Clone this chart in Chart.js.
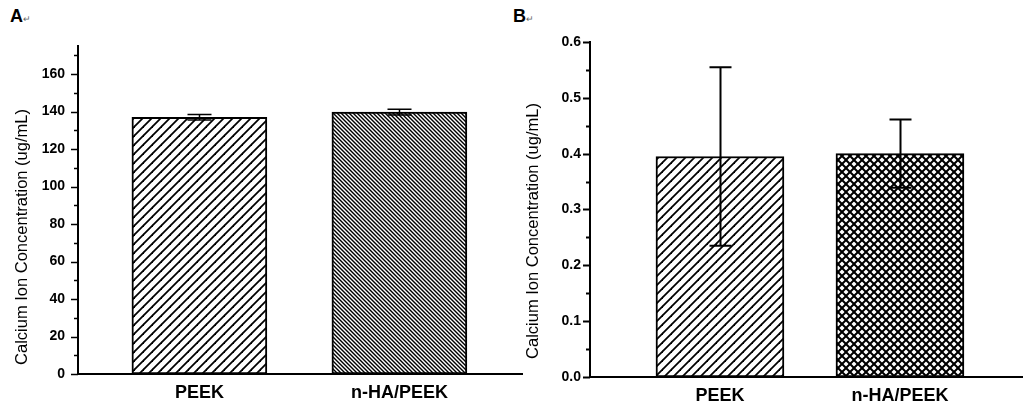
<!DOCTYPE html>
<html><head><meta charset="utf-8">
<script src="https://cdn.jsdelivr.net/npm/chart.js@4.4.1/dist/chart.umd.min.js"></script>
<style>
html,body{margin:0;padding:0;background:#fff;width:1025px;height:408px;overflow:hidden;font-family:"Liberation Sans",Arial,sans-serif;}
canvas{position:absolute;top:0;}
#cA{left:0;}
#cB{left:510px;}
.lab{position:absolute;font-weight:bold;font-size:18px;color:#000;}
.lab span{font-weight:normal;font-size:9px;color:#666;}
</style></head>
<body>
<div class="lab" style="left:10px;top:6px;">A<span>↵</span></div>
<div class="lab" style="left:513px;top:6px;">B<span>↵</span></div>
<canvas id="cA" width="525" height="408" style="width:525px;height:408px"></canvas>
<canvas id="cB" width="515" height="408" style="width:515px;height:408px"></canvas>
<script>
// ---- data ----
const categories = ['PEEK', 'n-HA/PEEK'];
const valuesA = [137.0, 139.7];
const errorsA = [1.5, 1.5];
const valuesB = [0.395, 0.400];
const errorsB = [0.160, 0.061];
const tickLabelsA = [0, 20, 40, 60, 80, 100, 120, 140, 160];
const tickLabelsB = [0.0, 0.1, 0.2, 0.3, 0.4, 0.5, 0.6];
const axisTitle = 'Calcium Ion Concentration (ug/mL)';

// ---- patterns ----
function hatch(s, lw, dir) {
  const c = document.createElement('canvas'); c.width = c.height = s;
  const g = c.getContext('2d');
  g.fillStyle = '#fff'; g.fillRect(0, 0, s, s);
  g.strokeStyle = '#000'; g.lineWidth = lw; g.lineCap = 'square';
  const line = (a, b, cc, d) => { g.beginPath(); g.moveTo(a, b); g.lineTo(cc, d); g.stroke(); };
  for (let k = -1; k <= 1; k++) {
    if (dir === '/' || dir === 'x') line(k * s, s, k * s + s, 0);
    if (dir === '\\' || dir === 'x') line(k * s, 0, k * s + s, s);
  }
  return g.createPattern(c, 'repeat');
}

// ---- plugins ----
const yTicks = {
  id: 'yTicks',
  afterDraw(chart, args, o) {
    const s = chart.scales.y, ctx = chart.ctx;
    ctx.save(); ctx.strokeStyle = '#000'; ctx.lineWidth = o.width;
    const n = Math.floor((s.max - s.min) / o.minor + 1e-6);
    for (let i = 0; i <= n; i++) {
      const v = s.min + i * o.minor;
      const r = v / o.major;
      const major = Math.abs(r - Math.round(r)) < 1e-6;
      const y = Math.round(s.getPixelForValue(v)) + 0.5;
      const len = major ? o.majorLen : o.minorLen;
      ctx.beginPath(); ctx.moveTo(s.right - len, y); ctx.lineTo(s.right, y); ctx.stroke();
    }
    ctx.restore();
  }
};
const yTitle = {
  id: 'yTitle',
  afterDraw(chart, args, o) {
    const s = chart.scales.y, ctx = chart.ctx;
    ctx.save();
    ctx.translate(s.left + o.dx, s.bottom - o.fromBottom);
    ctx.rotate(-Math.PI / 2);
    ctx.fillStyle = '#000';
    ctx.font = o.font;
    ctx.textAlign = 'center'; ctx.textBaseline = 'middle';
    ctx.fillText(o.text, 0, 0);
    ctx.restore();
  }
};
const errBars = {
  id: 'errBars',
  afterDatasetsDraw(chart, args, o) {
    const ctx = chart.ctx, y = chart.scales.y;
    const meta = chart.getDatasetMeta(0);
    const vals = chart.data.datasets[0].data;
    ctx.save(); ctx.strokeStyle = o.color; ctx.lineWidth = o.width;
    meta.data.forEach((bar, i) => {
      const v = vals[i].y, e = o.errors[i];
      const x = Math.round(bar.x) + 0.5, yt = y.getPixelForValue(v + e), yb = y.getPixelForValue(v - e);
      ctx.beginPath();
      ctx.moveTo(x, yt); ctx.lineTo(x, yb);
      ctx.moveTo(x - o.cap, yt); ctx.lineTo(x + o.cap, yt);
      ctx.moveTo(x - o.cap, yb); ctx.lineTo(x + o.cap, yb);
      ctx.stroke();
    });
    ctx.restore();
  }
};

function makeChart(id, vals, errs, tickLabels, cfg) {
  return new Chart(document.getElementById(id), {
    type: 'bar',
    data: {
      datasets: [{
        data: categories.map((c, i) => ({ x: i + 1, y: vals[i] })),
        backgroundColor: cfg.fills,
        borderColor: '#000',
        borderWidth: 2,
        borderSkipped: false,
        barThickness: cfg.barW
      }]
    },
    options: {
      responsive: false, animation: false,
      layout: { padding: cfg.pad },
      plugins: {
        legend: { display: false }, tooltip: { enabled: false },
        yTicks: cfg.ticks,
        yTitle: { text: axisTitle, font: '16.5px "Liberation Sans", Arial, sans-serif', dx: cfg.titleDx, fromBottom: cfg.titleFromBottom },
        errBars: { errors: errs, cap: cfg.cap, width: cfg.errW, color: '#000' }
      },
      scales: {
        x: {
          type: 'linear', min: cfg.xmin, max: cfg.xmax, offset: false,
          grid: { display: false, drawTicks: false, offset: false },
          border: { display: true, color: '#000', width: 2 },
          afterBuildTicks: s => { s.ticks = categories.map((c, i) => ({ value: i + 1 })); },
          afterFit: s => { s.height = cfg.xh; },
          ticks: {
            callback: v => categories[v - 1] || '',
            color: '#000', padding: cfg.xpad, maxRotation: 0, autoSkip: false,
            font: { family: 'Liberation Sans', size: 18, weight: 'bold' }
          }
        },
        y: {
          min: cfg.ymin, max: cfg.ymax,
          grid: { display: false, drawTicks: false },
          border: { display: true, color: '#000', width: 2 },
          afterBuildTicks: s => { s.ticks = tickLabels.map(v => ({ value: v })); },
          afterFit: s => { s.width = cfg.yw; },
          ticks: {
            callback: v => cfg.fmt(v),
            color: '#000', padding: cfg.ypad,
            font: { family: 'Liberation Sans', size: 14, weight: 'bold' }
          },
          title: { display: false }
        }
      }
    },
    plugins: [yTicks, yTitle, errBars]
  });
}

makeChart('cA', valuesA, errorsA, tickLabelsA, {
  fills: [hatch(9, 1.8, '/'), hatch(4, 1.4, '\\')],
  barW: 135, pad: { left: 0, right: 3, top: 46, bottom: 0 },
  xmin: 0.393, xmax: 2.613, xh: 34, xpad: 8,
  ymin: 0, ymax: 175, yw: 78, ypad: 13,
  fmt: v => String(v),
  titleDx: 22, titleFromBottom: 137,
  ticks: { minor: 10, major: 20, majorLen: 7, minorLen: 4, width: 1.5 },
  cap: 12, errW: 1.5
});
makeChart('cB', valuesB, errorsB, tickLabelsB, {
  fills: [hatch(9, 1.8, '/'), hatch(8, 2, 'x')],
  barW: 128, pad: { left: 0, right: 3, top: 42, bottom: 0 },
  xmin: 0.278, xmax: 2.678, xh: 31, xpad: 8,
  ymin: 0, ymax: 0.6, yw: 80, ypad: 9,
  fmt: v => v.toFixed(1),
  titleDx: 23, titleFromBottom: 146,
  ticks: { minor: 0.05, major: 0.1, majorLen: 7, minorLen: 4, width: 2 },
  cap: 11, errW: 2
});
</script>
</body></html>
